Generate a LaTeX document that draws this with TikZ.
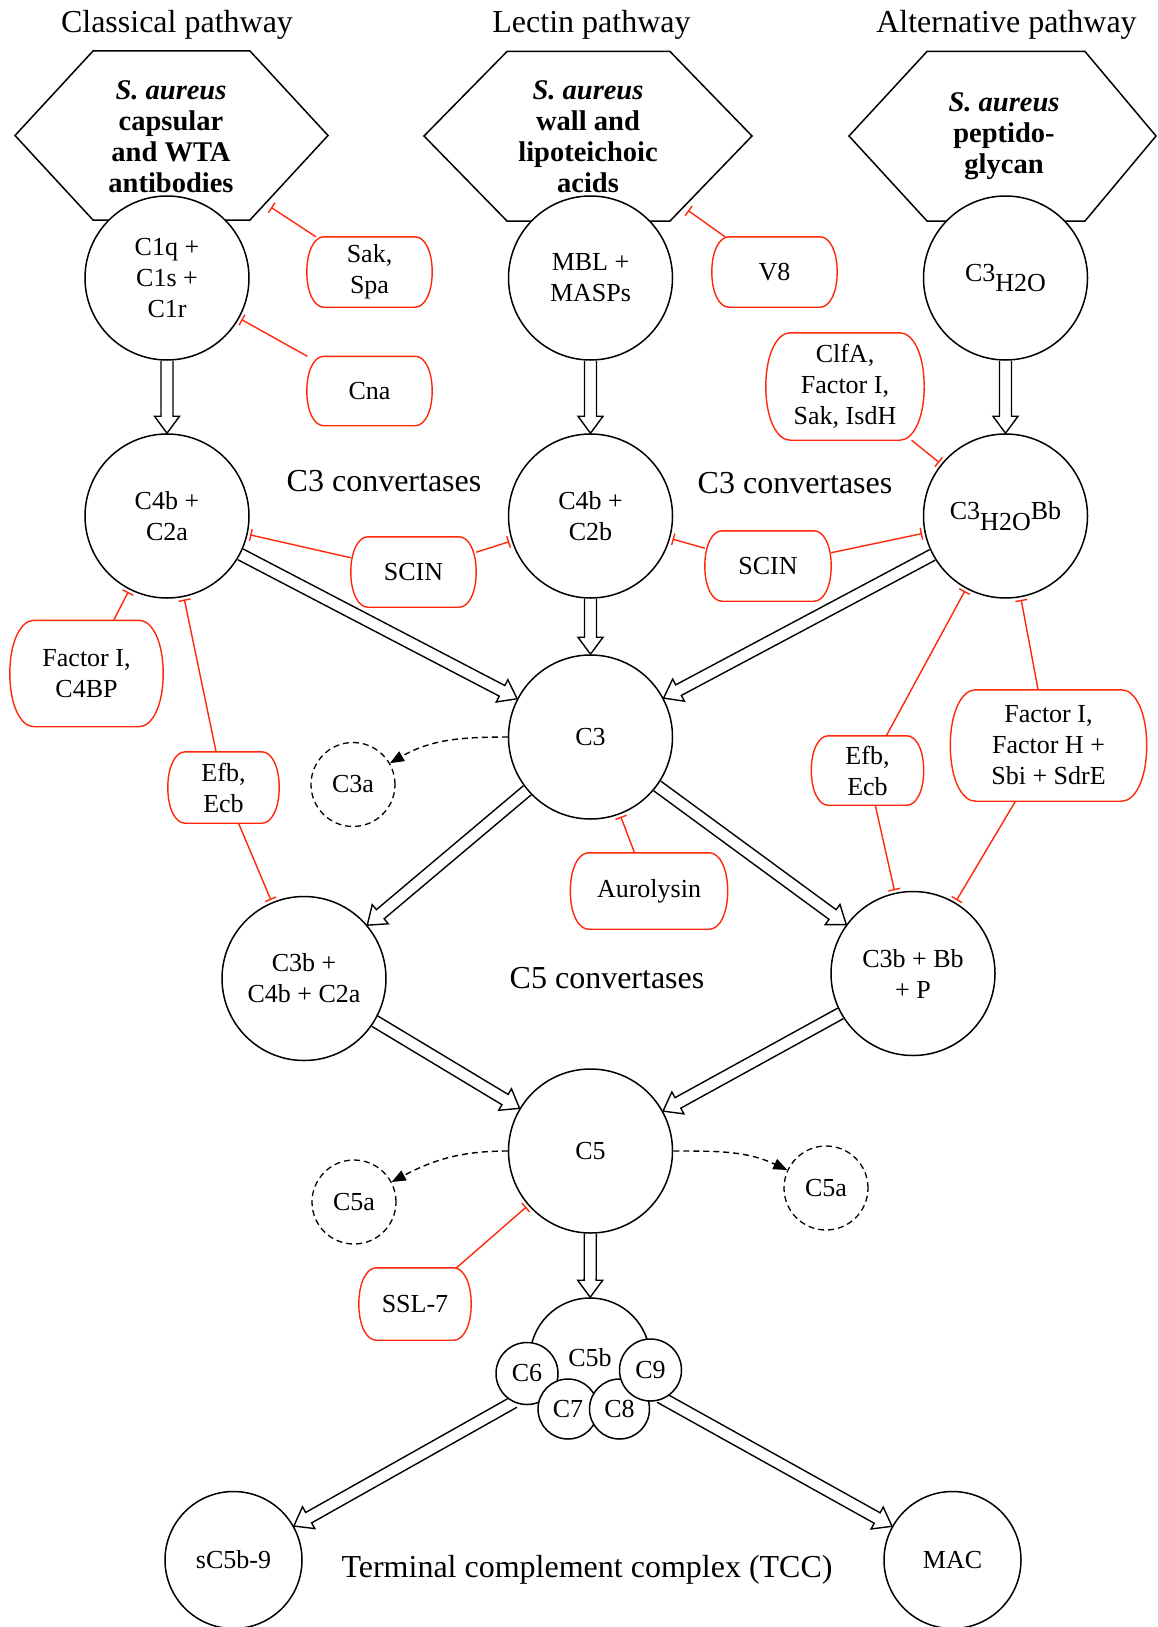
\documentclass[tikz,border=0pt]{standalone}
\usepackage{fontspec}
\setmainfont{Liberation Serif}
\usetikzlibrary{arrows.meta,calc}

\definecolor{inhib}{RGB}{255,40,10}

\tikzset{
  cplx/.style={circle, draw, line width=1.5pt, fill=white, minimum size=164pt, inner sep=0pt, align=center},
  frag/.style={circle, draw, dash pattern=on 6pt off 4pt, line width=1.3pt, minimum size=84pt, inner sep=0pt},
  sub/.style={circle, draw, line width=1.5pt, fill=white, inner sep=0pt},
  rbox/.style={rectangle, inner sep=0pt, align=center},
  rline/.style={draw=inhib, line width=1.4pt},
  inhibit/.style={draw=inhib, line width=1.4pt, shorten >=2.5pt, -{Bar[width=12pt,line width=1.4pt]}},
  release/.style={line width=1.4pt, dash pattern=on 6pt off 4pt, -{Triangle[length=14pt,width=11pt]}},
  fat/.style={line width=1.4pt, line join=miter},
  hexline/.style={line width=1.5pt, line join=miter},
  heading/.style={font=\fontsize{32}{38}\selectfont},
  surface/.style={font=\fontsize{28.5}{31}\selectfont\bfseries, align=center},
}

% hollow block arrow from the border of #1 to the border of #2
\newcommand\fatarrow[2]{%
  \path (#1) -- (#2) coordinate[pos=0] (fa-s) coordinate[pos=1] (fa-e);
  \coordinate (fa-b) at ($(fa-e)!17pt!(fa-s)$);
  \draw[fat] ($(fa-s)!6pt!90:(fa-e)$) -- ($(fa-b)!6pt!-90:(fa-s)$)
    -- ($(fa-b)!12.5pt!-90:(fa-s)$) -- (fa-e) -- ($(fa-b)!12.5pt!90:(fa-s)$)
    -- ($(fa-b)!6pt!90:(fa-s)$) -- ($(fa-s)!6pt!-90:(fa-e)$);
}

% red inhibitor box with bulging sides: name, position, width, height, text
\newcommand\redbox[5]{%
  \node[rbox, minimum width=#3pt, minimum height=#4pt] (#1) at (#2) {#5};
  \pgfmathsetmacro\rbb{0.2*#4+3}%
  \pgfmathsetmacro\rbc{0.45*\rbb}%
  \pgfmathsetmacro\rbq{0.3*#4}%
  \draw[rline] ([xshift=\rbb pt]#1.north west) -- ([xshift=-\rbb pt]#1.north east)
    .. controls ([xshift=-\rbc pt]#1.north east) and ([yshift=\rbq pt]#1.east) .. (#1.east)
    .. controls ([yshift=-\rbq pt]#1.east) and ([xshift=-\rbc pt]#1.south east) .. ([xshift=-\rbb pt]#1.south east)
    -- ([xshift=\rbb pt]#1.south west)
    .. controls ([xshift=\rbc pt]#1.south west) and ([yshift=-\rbq pt]#1.west) .. (#1.west)
    .. controls ([yshift=\rbq pt]#1.west) and ([xshift=\rbc pt]#1.north west) .. cycle;
}

\begin{document}
\begin{tikzpicture}[x=1pt, y=-1pt, font=\fontsize{26}{31}\selectfont]
\fill[white] (0,0) rectangle (1157,1627);
\useasboundingbox (0,0) rectangle (1157,1627);

% pathway headings
\node[heading] (tclass) at (177,25) {Classical pathway};
\node[heading] (tlect) at (591.5,25) {Lectin pathway};
\node[heading] (talt) at (1006.5,25) {Alternative pathway};

% activating surfaces
\draw[hexline] (15,135.5) -- (93,51) -- (250,51) -- (328,135.5) -- (250,220) -- (93,220) -- cycle;
\draw[hexline] (424,136) -- (507,51.5) -- (670,51.5) -- (752,136) -- (670,221) -- (507,221) -- cycle;
\draw[hexline] (849,136) -- (927,51.5) -- (1085,51.5) -- (1156,136) -- (1085,221) -- (927,221) -- cycle;
\node[surface] (sclass) at (171,137) {\textit{S. aureus}\\capsular\\and WTA\\antibodies};
\node[surface] (slect) at (588,137) {\textit{S. aureus}\\wall and\\lipoteichoic\\acids};
\node[surface] (salt) at (1004,136) {\textit{S. aureus}\\peptido-\\glycan};

% complement components
\node[cplx] (c1) at (167,278) {C1q +\\C1s +\\C1r};
\node[cplx] (mbl) at (590.5,278) {MBL +\\MASPs};
\node[cplx] (c3w) at (1005.5,278) {C3\raisebox{-0.42em}{H2O}};
\node[cplx] (cv2a) at (167,516) {C4b +\\C2a};
\node[cplx] (cv2b) at (590.5,516) {C4b +\\C2b};
\node[cplx] (cvbb) at (1005.5,516) {C3\raisebox{-0.42em}{H2O}Bb};
\node[cplx] (c3) at (590.5,737) {C3};
\node[frag] (c3a) at (353,784.5) {C3a};
\node[cplx] (c5cl) at (304,978.5) {C3b +\\C4b + C2a};
\node[cplx] (c5al) at (913,973.5) {C3b + Bb\\+ P};
\node[cplx] (c5) at (590.5,1151) {C5};
\node[frag] (c5aL) at (354,1202) {C5a};
\node[frag] (c5aR) at (826,1188) {C5a};
\node[cplx, minimum size=137pt] (sc5b9) at (233.5,1560) {sC5b-9};
\node[cplx, minimum size=137pt] (mac) at (952.5,1560) {MAC};

% section labels
\node[heading] (lc3a) at (384,481) {C3 convertases};
\node[heading] (lc3b) at (795,483) {C3 convertases};
\node[heading] (lc5) at (607,978) {C5 convertases};
\node[heading] (ltcc) at (587,1570) {Terminal complement complex (TCC)};

% activation cascade
\fatarrow{c1}{cv2a}
\fatarrow{mbl}{cv2b}
\fatarrow{c3w}{cvbb}
\fatarrow{cv2a}{c3}
\fatarrow{cv2b}{c3}
\fatarrow{cvbb}{c3}
\fatarrow{c3}{c5cl}
\fatarrow{c3}{c5al}
\fatarrow{c5cl}{c5}
\fatarrow{c5al}{c5}

% anaphylatoxin release
\draw[release] (c3) to[out=180,in=30] (c3a);
\draw[release] (c5) to[out=180,in=28] (c5aL);
\draw[release] (c5) to[out=0,in=155] (c5aR);

% terminal complex
\node[cplx, minimum size=120pt] (c5b) at (590,1358) {C5b};
\fatarrow{c5}{c5b}
\coordinate (tccL) at (514,1402);
\coordinate (tccR) at (660,1397);
\fatarrow{tccL}{sc5b9}
\fatarrow{tccR}{mac}
\node[sub, minimum size=62pt] (c6) at (527,1373.5) {C6};
\node[sub, minimum size=60pt] (c7) at (568,1409) {C7};
\node[sub, minimum size=60pt] (c8) at (619.5,1409) {C8};
\node[sub, minimum size=62pt] (c9) at (650.5,1370) {C9};

% staphylococcal inhibitors
\redbox{sak}{369.5,272}{125}{70}{Sak,\\Spa}
\redbox{cna}{369.5,391}{125}{69}{Cna}
\redbox{veight}{774.5,272}{125}{70}{V8}
\redbox{clfa}{845,386.5}{158}{107}{ClfA,\\Factor I,\\Sak, IsdH}
\redbox{scinL}{413.5,572}{125}{70}{SCIN}
\redbox{scinR}{768,566}{126}{70}{SCIN}
\redbox{fic}{86.5,673.5}{153}{106}{Factor I,\\C4BP}
\redbox{efbL}{223.5,787.5}{111}{71}{Efb,\\Ecb}
\redbox{efbR}{867.5,770.5}{112}{69}{Efb,\\Ecb}
\redbox{fh}{1048.5,745.5}{196}{111}{Factor I,\\Factor H +\\Sbi + SdrE}
\redbox{auro}{649,891}{157}{76}{Aurolysin}
\redbox{ssl}{415,1304}{112}{72}{SSL-7}

\coordinate (hexC) at (269,206);
\coordinate (hexL) at (686,209);
\draw[inhibit] (sak) -- (hexC);
\draw[inhibit] (cna) -- (c1);
\draw[inhibit] (veight) -- (hexL);
\draw[inhibit] (clfa) -- (cvbb);
\draw[inhibit] (scinL) -- (cv2a);
\draw[inhibit] (scinL) -- (cv2b);
\draw[inhibit] (scinR) -- (cv2b);
\draw[inhibit] (scinR) -- (cvbb);
\draw[inhibit] (fic) -- (cv2a);
\draw[inhibit] (efbL) -- (cv2a);
\draw[inhibit] (efbL) -- (c5cl);
\draw[inhibit] (efbR) -- (cvbb);
\draw[inhibit] (efbR) -- (c5al);
\draw[inhibit] (fh) -- (cvbb);
\draw[inhibit] (fh) -- (c5al);
\draw[inhibit] (auro) -- (c3);
\draw[inhibit] (ssl) -- (c5);
\end{tikzpicture}
\end{document}
